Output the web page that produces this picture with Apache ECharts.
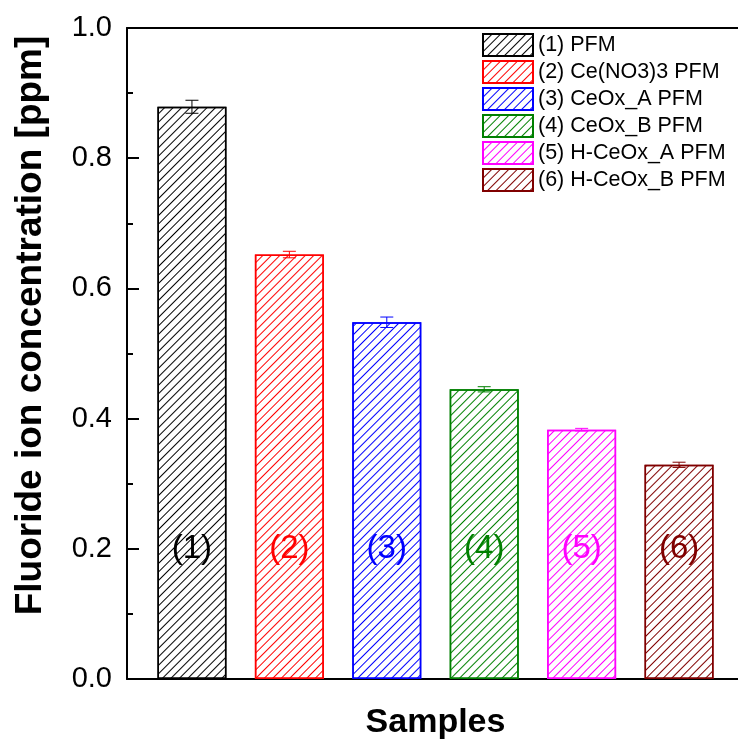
<!DOCTYPE html>
<html>
<head>
<meta charset="utf-8">
<script src="https://cdn.jsdelivr.net/npm/echarts@6/dist/echarts.min.js"></script>
<style>
  html, body { margin: 0; padding: 0; background: #fff; }
  #chart { width: 738px; height: 742px; }
</style>
</head>
<body>
<div id="chart"></div>
<script>
// samples and measured values
const names = ['(1) PFM', '(2) Ce(NO3)3 PFM', '(3) CeOx_A PFM', '(4) CeOx_B PFM', '(5) H-CeOx_A PFM', '(6) H-CeOx_B PFM'];
const shortLabels = ['(1)', '(2)', '(3)', '(4)', '(5)', '(6)'];
const values = [0.879, 0.652, 0.548, 0.445, 0.383, 0.329];
const errors = [0.010, 0.005, 0.008, 0.004, 0.002, 0.004];
const colors = ['#000000', '#ff0000', '#0000ff', '#008000', '#ff00ff', '#800000'];
const labelY = 0.2;

const font = "'Liberation Sans', Arial, sans-serif";

const chart = echarts.init(document.querySelector('#chart'));

// hatched bars: white fill with a "/" line decal in the series colour
const barSeries = names.map((name, i) => ({
  name,
  type: 'bar',
  barWidth: 69,
  barGap: '-100%',
  data: [[i + 1, values[i]]],
  itemStyle: {
    color: '#fff',
    borderColor: colors[i],
    borderWidth: 1.5,
    decal: {
      symbol: 'rect',
      symbolSize: 1,
      color: colors[i],
      backgroundColor: 'rgba(255,255,255,0)',
      dashArrayX: [1, 0],
      dashArrayY: [1, 4.8],
      rotation: -Math.PI / 4
    }
  },
  z: 2
}));

const errSeries = {
  type: 'custom',
  data: values.map((v, i) => [i + 1, v, errors[i]]),
  renderItem: (params, api) => {
    const i = params.dataIndex;
    const x = api.value(0), v = api.value(1), e = api.value(2);
    const top = api.coord([x, v + e]);
    const bot = api.coord([x, v - e]);
    const lab = api.coord([x, labelY]);
    const st = { stroke: colors[i], lineWidth: 1 };
    const w = 6.5;
    return {
      type: 'group',
      children: [
        { type: 'line', shape: { x1: top[0], y1: top[1], x2: bot[0], y2: bot[1] }, style: st },
        { type: 'line', shape: { x1: top[0] - w, y1: top[1], x2: top[0] + w, y2: top[1] }, style: st },
        { type: 'line', shape: { x1: bot[0] - w, y1: bot[1], x2: bot[0] + w, y2: bot[1] }, style: st },
        {
          type: 'text',
          x: lab[0], y: lab[1],
          style: {
            text: shortLabels[i], fill: colors[i],
            font: '33px ' + font, align: 'center', verticalAlign: 'middle'
          }
        }
      ]
    };
  },
  z: 3
};

const option = {
  animation: false,
  textStyle: { fontFamily: font },
  grid: { left: 127, top: 28, bottom: 63, right: -6, containLabel: false, outerBoundsMode: 'none' },
  legend: {
    orient: 'vertical',
    left: 477, top: 28,
    itemWidth: 50, itemHeight: 22, itemGap: 3,
    icon: 'rect',
    data: names,
    textStyle: { fontSize: 21.5, color: '#000', fontFamily: font },
    selectedMode: false
  },
  xAxis: [
    {
      type: 'value', min: 1 / 3, max: 6 + 2 / 3,
      name: 'Samples', nameLocation: 'middle', nameGap: 27,
      nameTextStyle: { fontSize: 34, fontWeight: 'bold', color: '#000', fontFamily: font },
      axisLine: { show: true, lineStyle: { color: '#000', width: 2 } },
      axisTick: { show: false }, axisLabel: { show: false }, splitLine: { show: false }
    },
    {
      type: 'value', position: 'top', min: 1 / 3, max: 6 + 2 / 3,
      axisLine: { show: true, onZero: false, lineStyle: { color: '#000', width: 2 } },
      axisTick: { show: false }, axisLabel: { show: false }, splitLine: { show: false }
    }
  ],
  yAxis: {
    type: 'value', min: 0, max: 1, interval: 0.2,
    name: 'Fluoride ion concentration [ppm]', nameLocation: 'middle', nameGap: 78,
    nameTextStyle: {
      fontSize: 37, fontWeight: 'bold', color: '#000', fontFamily: font,
      padding: [0, 0, 0, 56]
    },
    axisLine: { show: true, lineStyle: { color: '#000', width: 2 } },
    axisTick: { show: true, inside: true, length: 12, lineStyle: { color: '#000', width: 2 } },
    minorTick: { show: true, splitNumber: 2, length: 6, lineStyle: { color: '#000', width: 2 } },
    axisLabel: {
      fontSize: 29, color: '#000', margin: 15, fontFamily: font,
      formatter: v => v.toFixed(1)
    },
    splitLine: { show: false }
  },
  series: [...barSeries, errSeries]
};

chart.setOption(option);
</script>
</body>
</html>
